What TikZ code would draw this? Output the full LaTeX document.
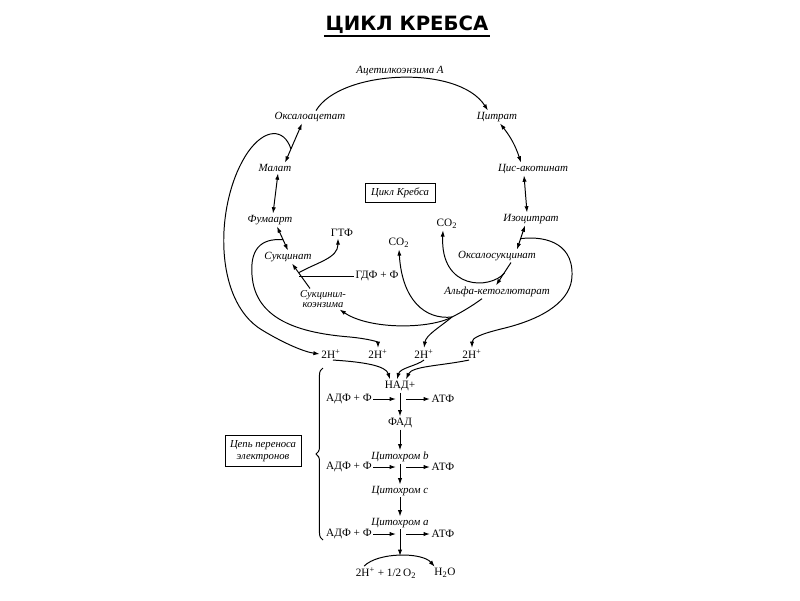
\documentclass[tikz,border=0pt]{standalone}
\usepackage{fontspec}
\setmainfont{Liberation Serif}
\newfontfamily\headfont{DejaVu Sans}
\usepackage{tikz}
\usetikzlibrary{arrows.meta, calc, decorations.pathreplacing}

\begin{document}
\begin{tikzpicture}[
    x=0.025cm, y=-0.025cm,
    metab/.style={font=\fontsize{7.8}{9}\selectfont\itshape, inner sep=1pt},
    chem/.style={font=\fontsize{8}{9.5}\selectfont, inner sep=1pt},
    frame/.style={
        draw, line width=0.6pt, align=center,
        font=\fontsize{7.6}{8.6}\selectfont\itshape
    },
    link/.style={line width=0.7pt},
    arrow/.style={-{Latex[length=4.5pt, width=3pt]}, line width=0.7pt},
    biarrow/.style={{Latex[length=4.5pt, width=3pt]}-{Latex[length=4.5pt, width=3pt]}, line width=0.7pt}
]
\useasboundingbox (0,0) rectangle (800,600);

% ── Title ──
\node[font=\headfont\bfseries\fontsize{14}{16}\selectfont, inner sep=1pt] (title) at (407,25) {ЦИКЛ КРЕБСА};
\draw[line width=1.4pt] (title.south west) -- (title.south east);

% ── Cycle metabolites ──
\node[metab] (acetyl) at (400,71) {Ацетилкоэнзима А};
\node[metab] (oxac) at (310,117) {Оксалоацетат};
\node[metab] (citrat) at (497,117) {Цитрат};
\node[metab] (malat) at (275,168) {Малат};
\node[metab] (cis) at (533,169) {Цис-акотинат};
\node[frame, minimum width=1.75cm, minimum height=0.43cm] (cyclebox) at (400,193) {Цикл Кребса};
\node[metab] (fumar) at (270,220) {Фумаарт};
\node[metab] (isocit) at (531,219) {Изоцитрат};
\node[chem] (gtf) at (342,233) {ГТФ};
\node[chem] (co2a) at (399,243) {CO\textsubscript{2}};
\node[chem] (co2b) at (447,224) {CO\textsubscript{2}};
\node[metab] (succ) at (288,257) {Сукцинат};
\node[metab] (oxsucc) at (497,256) {Оксалосукцинат};
\node[chem] (gdf) at (377,276) {ГДФ + Ф};
\node[metab] (akg) at (497,292) {Альфа-кетоглютарат};
\node[metab, align=center, font=\fontsize{7.5}{7.5}\selectfont\itshape] (succoa) at (323,299) {Сукцинил-\\коэнзима};

% ── Hydrogen pairs ──
\node[chem] (h1) at (331,354) {2H\textsuperscript{+}};
\node[chem] (h2) at (378,354) {2H\textsuperscript{+}};
\node[chem] (h3) at (424,354) {2H\textsuperscript{+}};
\node[chem] (h4) at (472,354) {2H\textsuperscript{+}};

% ── Electron transport chain ──
\node[chem] (nad) at (400,386) {НАД+};
\node[chem] (adp1) at (349,399) {АДФ + Ф};
\node[chem] (atp1) at (443,399) {АТФ};
\node[chem] (fad) at (400,423) {ФАД};
\node[frame, minimum width=1.9cm, minimum height=0.58cm] (chainbox) at (263,451) {Цепь переноса\\электронов};
\node[metab] (cytb) at (400,457) {Цитохром b};
\node[chem] (adp2) at (349,467) {АДФ + Ф};
\node[chem] (atp2) at (443,467) {АТФ};
\node[metab] (cytc) at (400,491) {Цитохром c};
\node[metab] (cyta) at (400,523) {Цитохром a};
\node[chem] (adp3) at (349,534) {АДФ + Ф};
\node[chem] (atp3) at (443,534) {АТФ};
\node[chem] (o2) at (386,573) {2H\textsuperscript{+} + 1/2\,O\textsubscript{2}};
\node[chem] (h2o) at (445,573) {H\textsubscript{2}O};

\draw[link, decorate, decoration={brace, amplitude=5pt}] (323,540) -- (323,368);

% ── Cycle arrows ──
\draw[arrow] ($(oxac.north)+(6,0)$) .. controls (340,70) and (458,64) .. ($(citrat.north)+(-9,0)$);
\draw[biarrow] ($(citrat.south)+(3,0)$) to[bend left=10] ($(cis.north)+(-12,0)$);
\draw[biarrow] ($(cis.south)+(-9,0)$) -- ($(isocit.north)+(-4,0)$);

\coordinate (io1) at ($(isocit.south)+(-6,0)$);
\coordinate (io2) at ($(oxsucc.north)+(20,0)$);
\draw[biarrow] (io1) -- (io2);
\coordinate (jIO) at ($(io1)!0.55!(io2)$);
\draw[arrow] (jIO) .. controls (540,236) and (573,240) .. (572,275)
    .. controls (572,300) and (545,318) .. (505,328)
    .. controls (480,334) and (472,338) .. (h4.north);

\coordinate (oa1) at ($(oxsucc.south)+(14,0)$);
\draw[arrow] (oa1) -- ($(akg.north)+(-1,0)$);
\coordinate (jOA) at ($(oa1)!0.45!(akg.north)$);
\draw[arrow] (jOA) .. controls (490,290) and (440,290) .. ($(co2b.south)+(-4,0)$);

\coordinate (jA) at (452,317);
\draw[arrow] ($(akg.south)+(-15,0)$) .. controls (472,306) and (462,312) .. (jA)
    .. controls (430,329) and (370,330) .. ($(succoa.south east)+(-8,0)$);
\draw[arrow] (jA) .. controls (425,320) and (402,300) .. (co2a.south);
\draw[arrow] (jA) .. controls (440,327) and (426,335) .. (h3.north);

\coordinate (ss1) at ($(succoa.north)+(-13,0)$);
\coordinate (ss2) at ($(succ.south)+(4,0)$);
\draw[arrow] (ss1) -- (ss2);
\coordinate (jS) at ($(ss1)!0.63!(ss2)$);
\draw[arrow] (jS) .. controls (318,262) and (338,258) .. ($(gtf.south)+(-4,0)$);
\draw[link] (gdf.west) -- (gdf.west -| jS);

\coordinate (fs1) at ($(fumar.south)+(7,0)$);
\coordinate (fs2) at (succ.north);
\draw[biarrow] (fs1) -- (fs2);
\coordinate (jF) at ($(fs1)!0.55!(fs2)$);
\draw[arrow] (jF) .. controls (260,238) and (250,250) .. (252,275)
    .. controls (255,320) and (300,333) .. (350,337)
    .. controls (370,339) and (378,342) .. (h2.north);

\draw[biarrow] ($(malat.south)+(3,0)$) -- ($(fumar.north)+(3,0)$);

\coordinate (om1) at ($(oxac.south)+(-8,0)$);
\coordinate (om2) at ($(malat.north)+(10,0)$);
\draw[biarrow] (om1) -- (om2);
\coordinate (jOM) at ($(om1)!0.65!(om2)$);
\draw[arrow] (jOM) .. controls (284,128) and (265,128) .. (248,152)
    .. controls (215,200) and (212,300) .. (262,330)
    .. controls (285,344) and (305,352) .. (h1.west);

% ── Hydrogen to chain ──
\draw[arrow] ($(h1.south)+(2,0)$) .. controls (365,362) and (386,366) .. ($(nad.north)+(-10,0)$);
\draw[arrow] (h3.south) .. controls (416,366) and (400,368) .. ($(nad.north)+(-3,0)$);
\draw[arrow] ($(h4.south)+(-3,0)$) .. controls (440,366) and (412,366) .. ($(nad.north)+(6,0)$);

% ── Chain arrows ──
\draw[arrow] (nad) -- (fad);
\draw[arrow] (fad) -- (cytb);
\draw[arrow] (cytb) -- (cytc);
\draw[arrow] (cytc) -- (cyta);
\coordinate (apex) at (400,556);
\draw[arrow] (cyta) -- (apex);
\draw[arrow] ($(o2.north west)+(10,0)$) .. controls (378,552) and (422,552) .. ($(h2o.north west)+(2,0)$);

\draw[arrow] (adp1) -- ($(adp1 -| nad)+(-4,0)$);
\draw[arrow] ($(atp1 -| nad)+(6,0)$) -- (atp1);
\draw[arrow] (adp2) -- ($(adp2 -| nad)+(-4,0)$);
\draw[arrow] ($(atp2 -| nad)+(6,0)$) -- (atp2);
\draw[arrow] (adp3) -- ($(adp3 -| nad)+(-4,0)$);
\draw[arrow] ($(atp3 -| nad)+(6,0)$) -- (atp3);

\end{tikzpicture}
\end{document}
